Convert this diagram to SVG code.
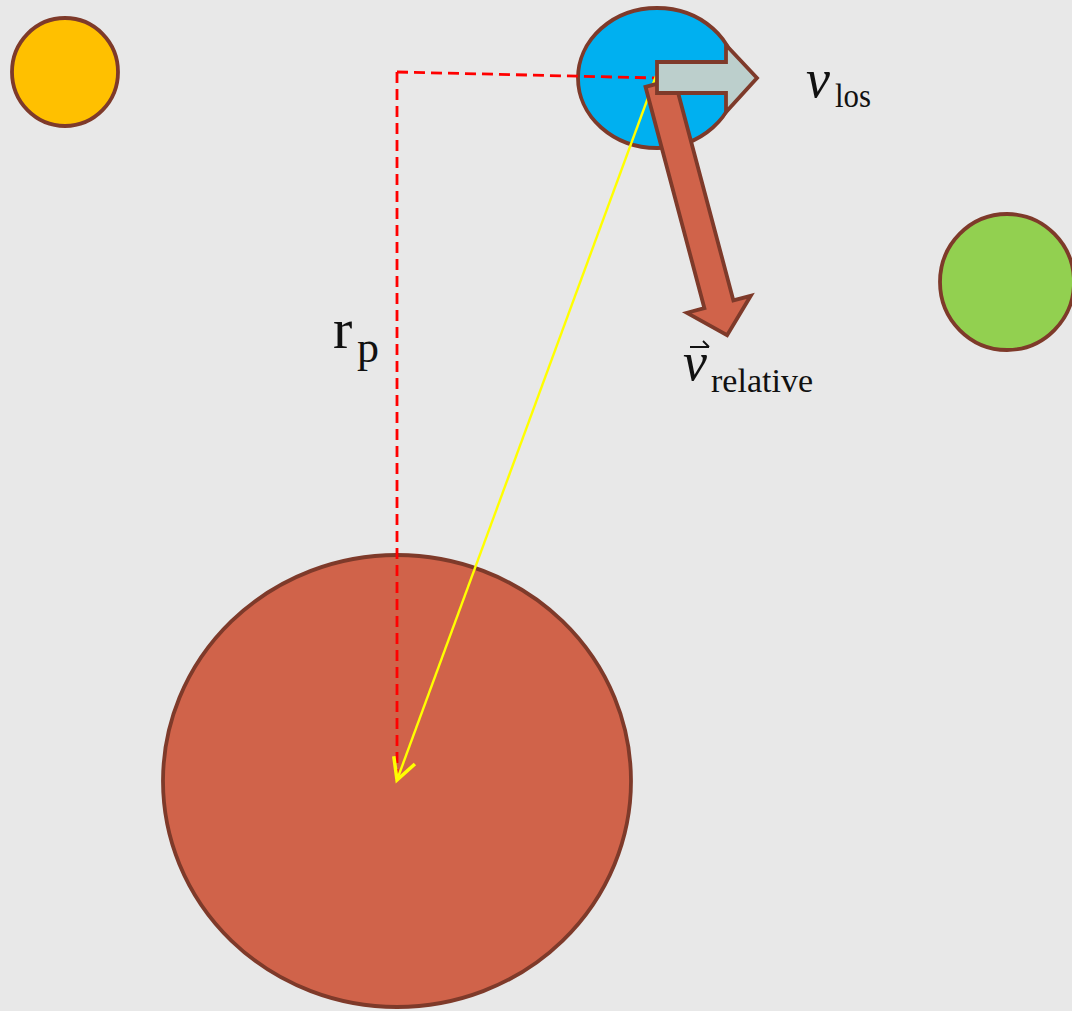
<svg xmlns="http://www.w3.org/2000/svg" width="1072" height="1011" viewBox="0 0 1072 1011">
<style>
.body{stroke:#7E3A2A;stroke-width:3.8}
.dash{fill:none;stroke:#FF0000;stroke-width:2.8;stroke-dasharray:11 6}
.lbl{font-family:"Liberation Serif","DejaVu Serif",serif;fill:#111}
.it{font-style:italic}
</style>
<defs>
<marker id="yhead" markerUnits="userSpaceOnUse" orient="auto" markerWidth="30" markerHeight="30" viewBox="-20 -12 24 24" refX="0" refY="0">
<path d="M-17,-9 L0,0 L-17,9" fill="none" stroke="#FFFF00" stroke-width="2.8"/>
</marker>
</defs>
<rect width="1072" height="1011" fill="#E8E8E8"/>
<g id="orange-body"><ellipse class="body" cx="65" cy="72" rx="53" ry="54" fill="#FFC000"/></g>
<g id="green-body"><ellipse class="body" cx="1007" cy="282" rx="67" ry="68" fill="#92D050"/></g>
<g id="central-body"><ellipse class="body" cx="397" cy="781" rx="234" ry="226" fill="#D0634A"/></g>
<g id="blue-body"><ellipse class="body" cx="657" cy="78" rx="79" ry="70" fill="#00B0F0"/></g>
<g id="connectors">
<path class="dash" d="M397,72 L656,78"/>
<path class="dash" d="M397,72 L397,780"/>
<path d="M656,76 L397,780" fill="none" stroke="#FFFF00" stroke-width="2.4" marker-end="url(#yhead)"/>
</g>
<g id="v-relative-arrow"><polygon class="body" transform="translate(660,83) rotate(75.1)" points="0,-15 229,-15 229,-33 261,0 229,33 229,15 0,15" fill="#D0634A" stroke-linejoin="miter"/></g>
<g id="v-los-arrow"><polygon class="body" points="657,62 726,62 726,45 757,78 726,112 726,93 657,93" fill="#BCCFCC"/></g>
<g id="label-vlos">
<text class="lbl it" x="806" y="97" font-size="54">v</text>
<text class="lbl" x="835" y="107" font-size="34" textLength="36" lengthAdjust="spacingAndGlyphs">los</text>
</g>
<g id="label-vrel">
<path d="M690,347 L709,347 M703,341 L709,347" fill="none" stroke="#111" stroke-width="1.8"/>
<text class="lbl it" x="683" y="380" font-size="54">v</text>
<text class="lbl" x="711" y="392" font-size="34" textLength="102" lengthAdjust="spacingAndGlyphs">relative</text>
</g>
<g id="label-rp">
<text class="lbl" x="333" y="348" font-size="58">r</text>
<text class="lbl" x="357" y="362" font-size="44">p</text>
</g>
</svg>
